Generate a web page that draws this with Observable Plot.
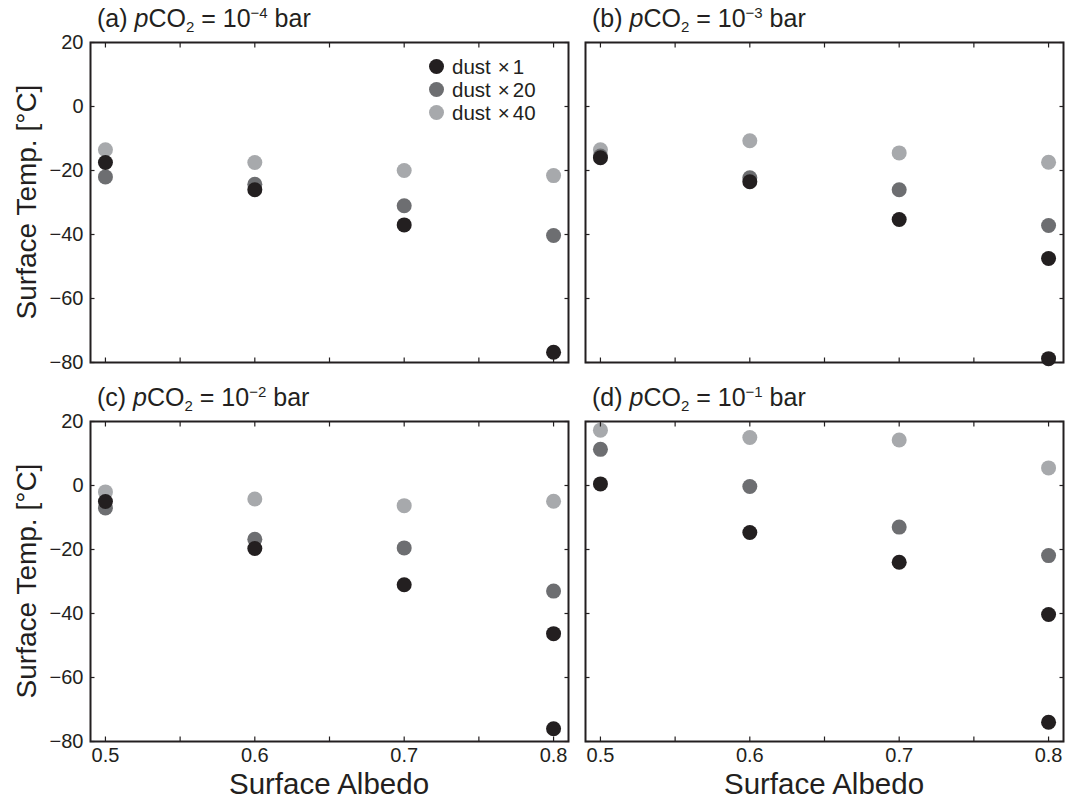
<!DOCTYPE html>
<html>
<head>
<meta charset="utf-8">
<script src="https://cdn.jsdelivr.net/npm/d3@7"></script>
<script src="https://cdn.jsdelivr.net/npm/@observablehq/plot@0.6"></script>
<style>
  html, body { margin: 0; padding: 0; background: #fff; }
  #root { position: relative; width: 1066px; height: 804px; overflow: hidden; font-family: "Liberation Sans", Arial, sans-serif; color: #231f20; }
  .panel { position: absolute; }
  .title { position: absolute; font-size: 25px; white-space: nowrap; line-height: 1; }
  .title sub { font-size: 0.6em; vertical-align: -0.35em; line-height: 0; }
  .title sup { font-size: 0.6em; vertical-align: 0.6em; line-height: 0; }
  .ylab { position: absolute; font-size: 28px; white-space: nowrap; transform: translate(-50%, -50%) rotate(-90deg); }
  .xlab { position: absolute; font-size: 29.5px; white-space: nowrap; transform: translateX(-50%); }
  .legend { position: absolute; font-size: 20.5px; }
  .legend .row { display: flex; align-items: center; white-space: nowrap; height: 23px; line-height: 23px; }
  .legend .dot { width: 15px; height: 15px; border-radius: 50%; margin-right: 8px; flex: none; }
  .legend .times { margin: 0 3px 0 7px; }
</style>
</head>
<body>
<div id="root"></div>
<script>
// ---- data ----
const albedo = [0.5, 0.6, 0.7, 0.8];
const seriesPrefix = ["dust", "dust", "dust"];
const seriesFactor = ["1", "20", "40"];
const seriesColors = ["#231f20", "#6d6e71", "#a7a9ac"];
const panelLetters = ["a", "b", "c", "d"];
const co2Exponents = ["−4", "−3", "−2", "−1"];

// (a) pCO2 = 1e-4 bar
const a_dust1  = [-17.5, -26.0, -37.0, -76.8];
const a_dust20 = [-22.0, -24.3, -31.0, -40.3];
const a_dust40 = [-13.5, -17.5, -20.0, -21.6];
// (b) pCO2 = 1e-3 bar
const b_dust1  = [-16.0, -23.5, -35.3, -47.5];
const b_dust20 = [-15.5, -22.3, -26.0, -37.2];
const b_dust40 = [-13.5, -10.7, -14.5, -17.4];
// (c) pCO2 = 1e-2 bar
const c_dust1  = [-5.0, -19.7, -31.0, -46.3];
const c_dust20 = [-7.0, -16.8, -19.5, -33.0];
const c_dust40 = [-2.0, -4.2, -6.3, -4.9];
// (d) pCO2 = 1e-1 bar
const d_dust1  = [0.5, -14.7, -24.0, -40.3];
const d_dust20 = [11.3, -0.3, -13.0, -21.9];
const d_dust40 = [17.3, 15.0, 14.2, 5.5];
// second (cold) dust ×1 solution at albedo 0.8, panels b, c, d
const coldAlbedo = 0.8;
const coldDust1 = [null, -78.8, -76.0, -74.0];

const xTicksMinor = [0.5, 0.55, 0.6, 0.65, 0.7, 0.75, 0.8];
const xTickLabels = [0.5, 0.6, 0.7, 0.8];
const yTicks = [-80, -60, -40, -20, 0, 20];

// ---- layout ----
const panelSeries = [
  [a_dust1, a_dust20, a_dust40],
  [b_dust1, b_dust20, b_dust40],
  [c_dust1, c_dust20, c_dust40],
  [d_dust1, d_dust20, d_dust40]
];
const frames = [
  {left: 90, top: 42}, {left: 585, top: 42},
  {left: 90, top: 421}, {left: 585, top: 421}
];
const frameW = 478, frameH = 320;
const mL = 90, mT = 42, mR = 20, mB = 40;
const ink = "#231f20";

const root = document.getElementById("root");

panelSeries.forEach((series, p) => {
  const rows = [];
  series.forEach((vals, s) => vals.forEach((v, i) => rows.push({x: albedo[i], y: v, s})));
  if (coldDust1[p] != null) rows.push({x: coldAlbedo, y: coldDust1[p], s: 0});
  rows.sort((u, w) => w.s - u.s);
  const bottomRow = p >= 2;
  const leftCol = p % 2 === 0;
  const fmt = d => (d < 0 ? "−" + Math.abs(d) : String(d));

  const marks = [
    Plot.dot(rows, {x: "x", y: "y", r: 7.5, fill: d => seriesColors[d.s], stroke: "none"}),
    Plot.axisX({anchor: "bottom", ticks: xTicksMinor, tickSize: -4.5, tickFormat: () => "", label: null, stroke: ink, strokeWidth: 1.2}),
    Plot.axisX({anchor: "top", ticks: xTicksMinor, tickSize: -4.5, tickFormat: () => "", label: null, stroke: ink, strokeWidth: 1.2}),
    Plot.axisY({anchor: "left", ticks: yTicks, tickSize: -4.5, tickFormat: () => "", label: null, stroke: ink, strokeWidth: 1.2}),
    Plot.axisY({anchor: "right", ticks: yTicks, tickSize: -4.5, tickFormat: () => "", label: null, stroke: ink, strokeWidth: 1.2}),
    Plot.frame({stroke: ink, strokeWidth: 2})
  ];
  if (leftCol) marks.push(Plot.axisY({anchor: "left", ticks: yTicks, tickSize: 0, tickPadding: 7, tickFormat: fmt, label: null, fill: ink}));
  if (bottomRow) marks.push(Plot.axisX({anchor: "bottom", ticks: xTickLabels, tickSize: 0, tickPadding: 6, tickFormat: d => d.toFixed(1), label: null, fill: ink}));

  const chart = Plot.plot({
    width: frameW + mL + mR,
    height: frameH + mT + mB,
    marginLeft: mL, marginRight: mR, marginTop: mT, marginBottom: mB,
    x: {domain: [0.49, 0.81], axis: null},
    y: {domain: [-80, 20], axis: null},
    style: {background: "transparent", fontFamily: "'Liberation Sans', Arial, sans-serif", fontSize: "20px", color: ink, overflow: "visible"},
    marks
  });
  chart.classList.add("panel");
  chart.style.left = (frames[p].left - mL) + "px";
  chart.style.top = (frames[p].top - mT) + "px";
  root.appendChild(chart);

  const t = document.createElement("div");
  t.className = "title";
  t.innerHTML = `(${panelLetters[p]}) <i>p</i>CO<sub>2</sub> = 10<sup>${co2Exponents[p]}</sup> bar`;
  t.style.left = (frames[p].left + 7) + "px";
  t.style.top = (frames[p].top - 36) + "px";
  root.appendChild(t);

  if (leftCol) {
    const yl = document.createElement("div");
    yl.className = "ylab";
    yl.textContent = "Surface Temp. [°C]";
    yl.style.left = "27px";
    yl.style.top = (frames[p].top + frameH / 2) + "px";
    root.appendChild(yl);
  }
  if (bottomRow) {
    const xl = document.createElement("div");
    xl.className = "xlab";
    xl.textContent = "Surface Albedo";
    xl.style.left = (frames[p].left + frameW / 2) + "px";
    xl.style.top = (frames[p].top + frameH + 26) + "px";
    root.appendChild(xl);
  }
});

// legend inside panel (a)
const legend = document.createElement("div");
legend.className = "legend";
legend.style.left = "429px";
legend.style.top = "55px";
seriesFactor.forEach((f, i) => {
  const row = document.createElement("div");
  row.className = "row";
  const dot = document.createElement("span");
  dot.className = "dot";
  dot.style.background = seriesColors[i];
  const label = document.createElement("span");
  label.innerHTML = `${seriesPrefix[i]}<span class="times">×</span>${f}`;
  row.appendChild(dot);
  row.appendChild(label);
  legend.appendChild(row);
});
root.appendChild(legend);
</script>
</body>
</html>
